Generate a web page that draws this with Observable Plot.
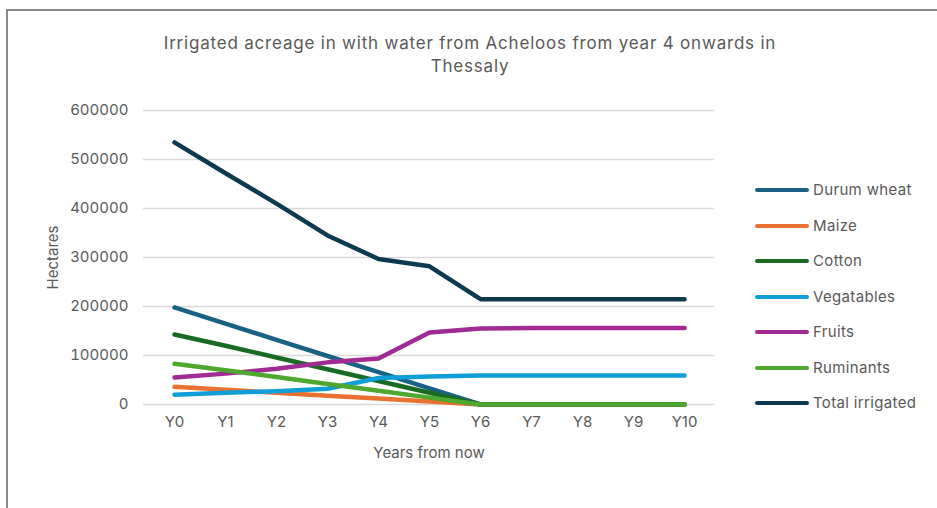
<!DOCTYPE html>
<html>
<head>
<meta charset="utf-8">
<script src="https://cdn.jsdelivr.net/npm/d3@7"></script>
<script src="https://cdn.jsdelivr.net/npm/@observablehq/plot@0.6"></script>
<style>
  html, body { margin: 0; padding: 0; background: #fff; }
  #wrap { position: relative; width: 937px; height: 508px; overflow: hidden; font-family: Inter, sans-serif; color: #595959; }
  #frame { position: absolute; left: 6px; top: 9px; width: 960px; height: 520px; border-top: 2px solid #8a8a8a; border-left: 2px solid #8a8a8a; }
  #title { position: absolute; left: 0; width: 937px; top: 32px; text-align: center; font-size: 17px; line-height: 23px; letter-spacing: 0.8px; color: #595959; }
  #title div { width: 760px; margin-left: 90px; }
  #chart { position: absolute; left: 0; top: 0; }
  #legend { position: absolute; left: 755px; top: 0; }
  .item { position: absolute; left: 0; height: 20px; white-space: nowrap; }
  .sw { position: absolute; left: 0; width: 54px; height: 4px; border-radius: 2px; }
  .lab { position: absolute; left: 58px; font-size: 15px; line-height: 20px; letter-spacing: 0.35px; top: 0; color: #595959; }
</style>
</head>
<body>
<div id="wrap">
  <div id="frame"></div>
  <div id="chart"></div>
  <div id="title"><div>Irrigated acreage in with water from Acheloos from year 4 onwards in<br>Thessaly</div></div>
  <div id="legend"></div>
</div>
<script>
const years = ["Y0","Y1","Y2","Y3","Y4","Y5","Y6","Y7","Y8","Y9","Y10"];
const seriesNames = ["Durum wheat","Maize","Cotton","Vegatables","Fruits","Ruminants","Total irrigated"];
const seriesColors = ["#1a6283","#e97132","#196b24","#0f9ed5","#a02b93","#4ea72e","#0e3a50"];
const durumWheat = [198000,165000,132000,99000,66000,33000,0,0,0,0,0];
const maize      = [36000,30000,24000,18000,12000,6000,0,0,0,0,0];
const cotton     = [143000,120000,96000,72000,48000,24000,0,0,0,0,0];
const vegetables = [20000,24000,27000,32000,54000,57000,59000,59000,59000,59000,59000];
const fruits     = [55000,63000,73000,86000,94000,147000,155000,156000,156000,156000,156000];
const ruminants  = [83000,70000,56000,42000,28000,14000,0,0,0,0,0];
const total      = [535000,472000,410000,345000,297000,282000,215000,215000,215000,215000,215000];
const yTicks = [0,100000,200000,300000,400000,500000,600000];

const allValues = [durumWheat, maize, cotton, vegetables, fruits, ruminants, total];
const rows = [];
seriesNames.forEach((s, i) => years.forEach((y, j) => rows.push({series: s, year: y, value: allValues[i][j]})));

const plot = Plot.plot({
  width: 937,
  height: 508,
  marginLeft: 143,
  marginRight: 223,
  marginTop: 110,
  marginBottom: 104,
  style: { fontFamily: "Inter, sans-serif", fontSize: "15px", color: "#595959", background: "transparent" },
  x: { type: "point", domain: years, padding: 0.5 },
  y: { domain: [0, 600000] },
  color: { domain: seriesNames, range: seriesColors },
  marks: [
    Plot.gridY(yTicks, { stroke: "#d9d9d9", strokeOpacity: 1, strokeWidth: 1.6 }),
    Plot.axisY(yTicks, { tickSize: 0, tickPadding: 15, tickFormat: d => String(d), label: "Hectares", labelAnchor: "center", labelOffset: 96, labelArrow: "none", fill: "#595959" }),
    Plot.axisX({ tickSize: 0, tickPadding: 12, label: "Years from now", labelAnchor: "center", labelOffset: 53, labelArrow: "none", fill: "#595959" }),
    Plot.line(rows, { x: "year", y: "value", z: "series", stroke: "series", strokeWidth: 4.5, strokeLinecap: "round", strokeLinejoin: "round" })
  ]
});
document.getElementById("chart").appendChild(plot);

const legendY = [190, 226, 261, 297, 332, 368, 403];
const leg = document.getElementById("legend");
seriesNames.forEach((s, i) => {
  const it = document.createElement("div");
  it.className = "item";
  it.style.top = (legendY[i] - 10) + "px";
  it.innerHTML = `<div class="sw" style="top:8px;background:${seriesColors[i]}"></div><div class="lab">${s}</div>`;
  leg.appendChild(it);
});
</script>
</body>
</html>
